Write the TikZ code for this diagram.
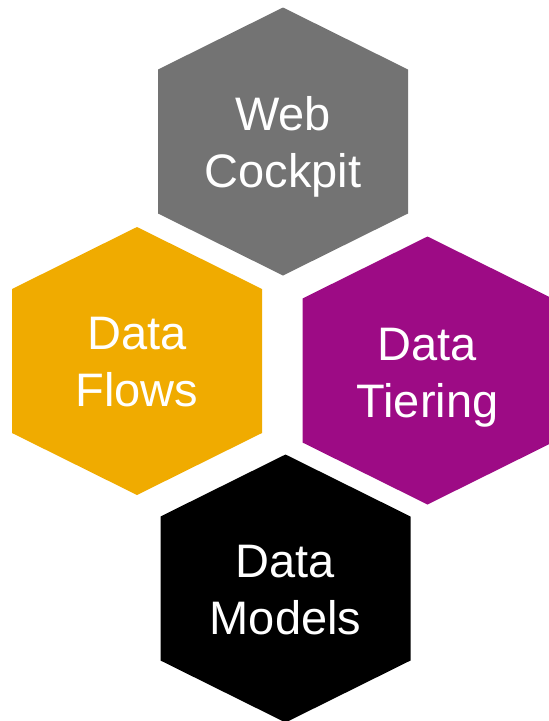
\documentclass[tikz,border=0pt]{standalone}
\usepackage{fontspec}
\setmainfont{Liberation Sans}
\definecolor{hexgray}{RGB}{115,115,115}
\definecolor{hexgold}{RGB}{240,171,0}
\definecolor{hexpurple}{RGB}{157,11,133}
\definecolor{hexblack}{RGB}{0,0,0}
\begin{document}
\begin{tikzpicture}[x=1pt,y=-1pt,
  hexlabel/.style={text=white,font=\fontsize{47}{57}\selectfont,anchor=base,inner sep=0pt},
  hex/.pic={\fill[pic actions] (0,-134) -- (125,-72) -- (125,72) -- (0,134) -- (-125,72) -- (-125,-72) -- cycle;}]
\useasboundingbox (0,0) rectangle (549,721);
\clip (0,0) rectangle (549,721);
\pic[fill=hexgray] at (283,141.5) {hex};
\pic[fill=hexgold] at (137,361) {hex};
\pic[fill=hexpurple] at (427.5,370.5) {hex};
\pic[fill=hexblack] at (285.5,588.5) {hex};
\node[hexlabel] (webA) at (283,130) {Web};
\node[hexlabel] (webB) at (283,187) {Cockpit};
\node[hexlabel] (flowA) at (137,349.5) {Data};
\node[hexlabel] (flowB) at (137,406.5) {Flows};
\node[hexlabel] (tierA) at (427.5,360) {Data};
\node[hexlabel] (tierB) at (427.5,417) {Tiering};
\node[hexlabel] (modA) at (285.5,577.5) {Data};
\node[hexlabel] (modB) at (285.5,634.5) {Models};
\end{tikzpicture}
\end{document}
